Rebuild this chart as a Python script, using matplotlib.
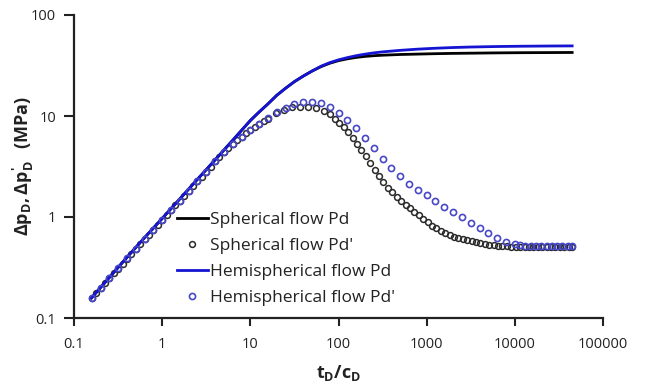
import matplotlib
matplotlib.use("Agg")
import matplotlib.pyplot as plt

plt.rcParams['font.family'] = ['Open Sans', 'DejaVu Sans']
plt.rcParams['mathtext.fontset'] = 'custom'
plt.rcParams['mathtext.rm'] = 'Open Sans:bold'
plt.rcParams['mathtext.it'] = 'Open Sans:bold'
plt.rcParams['mathtext.bf'] = 'Open Sans:bold'
plt.rcParams['mathtext.default'] = 'rm'

# ---- data ----
t_line = [0.158, 0.251, 0.398, 0.631, 1.0, 1.585, 2.512, 3.981, 6.31, 10,
          12.59, 15.85, 19.95, 25.12, 31.62, 39.81, 50.12, 63.1, 79.43, 100,
          125.9, 158.5, 199.5, 251.2, 316.2, 501.2, 794.3, 1259, 1995, 3162,
          6310, 12590, 25120, 44670]
pd_sph = [0.158, 0.251, 0.398, 0.624, 0.966, 1.51, 2.36, 3.67, 5.75, 9.02,
          10.96, 13.18, 16.03, 18.84, 21.88, 24.83, 27.86, 30.76, 33.27, 35.32,
          36.81, 38.02, 38.90, 39.54, 39.99, 40.64, 41.02, 41.40, 41.69, 41.88,
          42.17, 42.36, 42.46, 42.56]
pd_hemi = [0.158, 0.251, 0.398, 0.624, 0.966, 1.51, 2.36, 3.67, 5.75, 9.02,
           10.96, 13.18, 16.03, 18.84, 21.88, 24.83, 27.86, 31.05, 33.73, 35.97,
           37.84, 39.54, 40.93, 42.17, 43.15, 44.67, 45.92, 46.88, 47.64, 48.19,
           48.75, 49.09, 49.32, 49.43]

t_sph_d = [0.158, 0.178, 0.200, 0.224, 0.251, 0.282, 0.316, 0.355, 0.398, 0.447,
           0.501, 0.562, 0.631, 0.708, 0.794, 0.891, 1.0, 1.122, 1.259, 1.413,
           1.585, 1.778, 1.995, 2.239, 2.512, 2.818, 3.162, 3.548, 3.981, 4.467,
           5.012, 5.623, 6.310, 7.079, 7.943, 8.913, 10.0, 11.22, 12.59, 14.13,
           15.85, 19.50, 23.99, 29.51, 36.31, 44.67, 54.95, 67.61, 79.43, 91.20,
           102.3, 114.8, 128.8, 144.5, 162.2, 182.0, 204.2, 229.1, 257.0, 288.4,
           323.6, 363.1, 407.4, 457.1, 512.9, 575.4, 645.7, 724.4, 812.8, 912.0,
           1023, 1148, 1288, 1445, 1622, 1820, 2042, 2291, 2570, 2884,
           3236, 3631, 4074, 4571, 5129, 5754, 6457, 7244, 8128, 9120,
           10230, 11480, 12880, 14450, 16220, 18200, 20420, 22910, 25700, 28840,
           32360, 36310, 40740, 44670]
dpd_sph = [0.158, 0.178, 0.200, 0.221, 0.248, 0.277, 0.309, 0.345, 0.385, 0.431,
           0.481, 0.537, 0.600, 0.670, 0.748, 0.836, 0.933, 1.04, 1.16, 1.30,
           1.45, 1.62, 1.81, 2.02, 2.26, 2.51, 2.82, 3.16, 3.55, 3.94,
           4.37, 4.79, 5.25, 5.75, 6.24, 6.76, 7.24, 7.76, 8.32, 8.87,
           9.44, 10.6, 11.5, 12.2, 12.4, 12.4, 12.0, 11.2, 10.4, 9.44,
           8.61, 7.76, 6.92, 6.10, 5.31, 4.62, 3.98, 3.43, 2.95, 2.54,
           2.21, 1.95, 1.75, 1.58, 1.45, 1.32, 1.22, 1.13, 1.05, 0.966,
           0.891, 0.822, 0.776, 0.733, 0.695, 0.664, 0.641, 0.621, 0.603, 0.589,
           0.575, 0.562, 0.550, 0.540, 0.531, 0.525, 0.519, 0.515, 0.513, 0.51,
           0.51, 0.51, 0.51, 0.51, 0.51, 0.51, 0.51, 0.51, 0.51, 0.51,
           0.51, 0.51, 0.51, 0.51]

t_hemi_d = [0.158, 0.2, 0.251, 0.316, 0.398, 0.501, 0.631, 0.794, 1.0, 1.259,
            1.585, 1.995, 2.512, 3.162, 3.981, 5.012, 6.31, 7.943, 10, 12.59,
            15.85, 19.95, 25.12, 31.62, 39.81, 50.12, 63.1, 79.43, 100, 125.9,
            158.5, 199.5, 251.2, 316.2, 398.1, 501.2, 631, 794.3, 1000, 1259,
            1585, 1995, 2512, 3162, 3981, 5012, 6310, 7943, 10000, 11480,
            13180, 15140, 17380, 19950, 22910, 26300, 30200, 34670, 39810, 44670]
dpd_hemi = [0.158, 0.200, 0.251, 0.313, 0.389, 0.484, 0.603, 0.750, 0.933, 1.16,
            1.45, 1.81, 2.26, 2.82, 3.55, 4.42, 5.25, 6.24, 7.24, 8.41,
            9.59, 10.9, 12.0, 13.1, 13.7, 13.9, 13.4, 12.2, 10.7, 9.18,
            7.53, 6.05, 4.79, 3.78, 3.08, 2.54, 2.13, 1.85, 1.64, 1.45,
            1.26, 1.11, 0.99, 0.87, 0.773, 0.692, 0.617, 0.565, 0.543, 0.531,
            0.521, 0.515, 0.513, 0.513, 0.513, 0.513, 0.513, 0.513, 0.513, 0.513]

labels = ["Spherical flow Pd", "Spherical flow Pd'",
          "Hemispherical flow Pd", "Hemispherical flow Pd'"]
x_ticks = [0.1, 1, 10, 100, 1000, 10000, 100000]
x_ticklabels = ["0.1", "1", "10", "100", "1000", "10000", "100000"]
y_ticks = [0.1, 1, 10, 100]
y_ticklabels = ["0.1", "1", "10", "100"]

fig = plt.figure(figsize=(6.45, 3.85), dpi=100)
ax = fig.add_axes([74/645, 1-318/385, (603-74)/645, (318-15)/385])

ax.plot(t_line, pd_sph, color='black', lw=2.0, label=labels[0])
ax.plot(t_sph_d, dpd_sph, ls='none', marker='o', ms=4.2, mfc='none',
        mec='#2a2a2a', mew=1.1, label=labels[1])
ax.plot(t_line, pd_hemi, color='#1414d2', lw=2.0, label=labels[2])
ax.plot(t_hemi_d, dpd_hemi, ls='none', marker='o', ms=4.4, mfc='none',
        mec='#4747c8', mew=1.2, label=labels[3])

ax.set_xscale('log')
ax.set_yscale('log')
ax.set_xlim(0.1, 100000)
ax.set_ylim(0.1, 100)
ax.set_xticks(x_ticks)
ax.set_xticklabels(x_ticklabels)
ax.set_yticks(y_ticks)
ax.set_yticklabels(y_ticklabels)
ax.minorticks_off()
ax.tick_params(axis='x', which='major', direction='out', length=5.5, width=1.5,
               labelsize=10.5, color='#222222', labelcolor='#222222', pad=8)
ax.tick_params(axis='y', which='major', direction='out', length=7, width=1.5,
               labelsize=10.5, color='#222222', labelcolor='#222222', pad=6)
for s in ['top', 'right']:
    ax.spines[s].set_visible(False)
for s in ['left', 'bottom']:
    ax.spines[s].set_linewidth(1.6)
    ax.spines[s].set_color('#222222')

ax.set_xlabel(r"$t_D/c_D$", fontsize=13, color='#222222', labelpad=8)
ax.set_ylabel(r"$\Delta p_D,\Delta p_D' \ \ (MPa)$", fontsize=13, color='#222222')
ax.yaxis.set_label_coords(-0.072, 0.5)

leg = ax.legend(loc='upper left', bbox_to_anchor=(0.195, 0.35), frameon=False,
                fontsize=12.5, borderaxespad=0, borderpad=0, handlelength=1.75,
                handletextpad=0.15, labelspacing=0.57, numpoints=1)
for txt in leg.get_texts():
    txt.set_color('#222222')

fig.savefig("out.png", dpi=100)
